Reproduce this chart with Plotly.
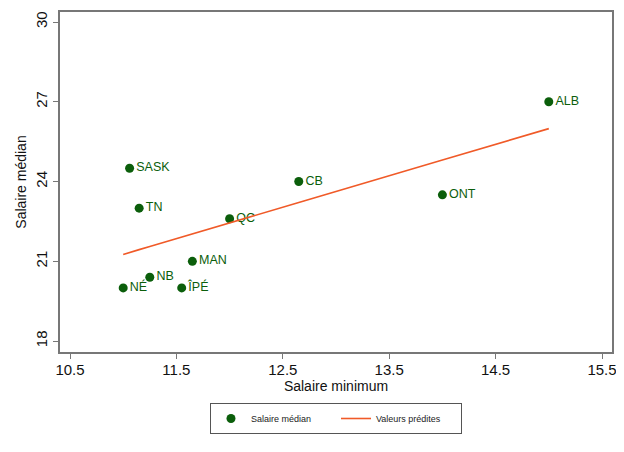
import plotly.graph_objects as go

provinces = ["SASK", "TN", "NÉ", "NB", "ÎPÉ", "MAN", "QC", "CB", "ONT", "ALB"]
min_wage = [11.06, 11.15, 11.0, 11.25, 11.55, 11.65, 12.0, 12.65, 14.0, 15.0]
median_wage = [24.5, 23.0, 20.0, 20.4, 20.0, 21.0, 22.6, 24.0, 23.5, 27.0]

fit_x = [11.0, 11.06, 11.15, 11.25, 11.55, 11.65, 12.0, 12.65, 14.0, 15.0]
fit_y = [21.26, 21.34, 21.44, 21.56, 21.91, 22.03, 22.44, 23.21, 24.81, 25.99]

x_ticks = [10.5, 11.5, 12.5, 13.5, 14.5, 15.5]
y_ticks = [18, 21, 24, 27, 30]

GREEN = "#0b5e0b"
ORANGE = "#f05a28"
FONT = "Liberation Sans, Arial, sans-serif"

fig = go.Figure()
fig.add_trace(go.Scatter(
    x=min_wage, y=median_wage, mode="markers+text", text=provinces,
    textposition="middle right", textfont=dict(color=GREEN, size=12.5, family=FONT),
    marker=dict(color=GREEN, size=9), name="Salaire médian",
))
fig.add_trace(go.Scatter(
    x=fit_x, y=fit_y, mode="lines", line=dict(color=ORANGE, width=1.6),
    name="Valeurs prédites",
))

axis_common = dict(
    showgrid=False, zeroline=False, showline=True, linecolor="#777777", linewidth=1.5,
    mirror=True, ticks="outside", ticklen=5, tickcolor="#777777", automargin=False,
    tickfont=dict(size=15, color="#111111", family=FONT),
)
fig.update_xaxes(range=[10.406, 15.594], tickvals=x_ticks, ticktext=[str(v) for v in x_ticks],
                 ticklabelstandoff=-2,
                 title=dict(text="Salaire minimum", font=dict(size=14, color="#111111", family=FONT), standoff=0),
                 **axis_common)
fig.update_yaxes(range=[17.59, 30.376], tickvals=y_ticks, tickangle=-90,
                 title=dict(text="Salaire médian", font=dict(size=14, color="#111111", family=FONT), standoff=3),
                 **axis_common)

fig.update_layout(
    width=616, height=444,
    margin=dict(l=52, r=12, t=4, b=100),
    paper_bgcolor="white", plot_bgcolor="white",
    font=dict(family=FONT),
    legend=dict(orientation="h", x=0.5, xanchor="center", y=-0.15, yanchor="top",
                bordercolor="#555555", borderwidth=1, font=dict(size=9, color="#222222"),
                entrywidth=80),
    showlegend=True,
)

fig.write_html("out.html")
